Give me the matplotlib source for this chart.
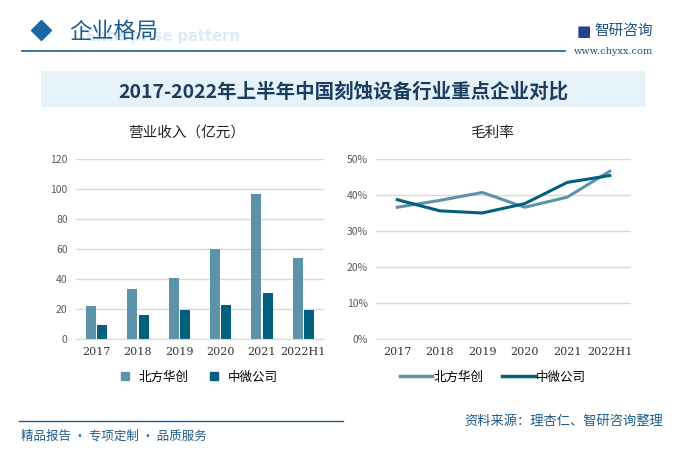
import numpy as np
import matplotlib.pyplot as plt
from matplotlib.patches import Rectangle
from matplotlib.lines import Line2D

plt.rcParams['font.family'] = ['Noto Sans CJK SC', 'DejaVu Sans']

years = ['2017', '2018', '2019', '2020', '2021', '2022H1']
revenue_naura = [22.2, 33.3, 40.7, 60.2, 96.7, 54.0]   # 北方华创, 亿元
revenue_amec = [9.4, 16.0, 19.4, 22.9, 30.8, 19.4]     # 中微公司
margin_naura = [36.6, 38.5, 40.7, 36.6, 39.4, 46.6]    # 毛利率 %
margin_amec = [38.7, 35.6, 35.0, 37.6, 43.5, 45.4]
names = ['北方华创', '中微公司']

c_light = '#5d93aa'
c_dark = '#02607f'
W, H = 686, 458

fig = plt.figure(figsize=(W / 100, H / 100), dpi=100)

def fx(px):
    return px / W

def fy(py):
    return 1 - py / H

# header
fig.text(fx(240), fy(36), 'Enterprise pattern', fontsize=10.5, fontweight='bold',
         color='#dde9f4', ha='right', va='center', family='DejaVu Sans')
fig.add_artist(Line2D([fx(41)], [fy(30)], marker='D', markersize=10.5, color='#1a69a7', ls=''))
fig.text(fx(69), fy(31), '企业格局', fontsize=16, color='#1f5c8a', va='center')
fig.add_artist(Line2D([fx(22), fx(565)], [fy(51), fy(51)], color='#1f5c8a', lw=1.2))
fig.text(fx(584), fy(31), '■', fontsize=11, color='#2a3f8f', ha='center', va='center',
         family='DejaVu Sans')
fig.text(fx(594), fy(31), '智研咨询', fontsize=10.5, color='#1f4f8a', va='center')
fig.text(fx(574), fy(51), 'www.chyxx.com', fontsize=7, color='#1f4f8a', va='center',
         family='DejaVu Serif')

# title band
fig.add_artist(Rectangle((fx(41), fy(107)), fx(604), 36 / H, color='#e6f2fa', lw=0))
fig.text(fx(343), fy(91), '2017-2022年上半年中国刻蚀设备行业重点企业对比', fontsize=14,
         fontweight='bold', color='#1d3d5e', ha='center', va='center')

x = np.arange(len(years))

# revenue bars
ax1 = fig.add_axes([fx(76), fy(339), fx(248), 180 / H])
bw = 0.24
ax1.bar(x - 0.14, revenue_naura, bw, color=c_light, label=names[0])
ax1.bar(x + 0.14, revenue_amec, bw, color=c_dark, label=names[1])
ax1.set_ylim(0, 120)
ax1.set_yticks(range(0, 121, 20))
ax1.set_xlim(-0.5, len(years) - 0.5)
fig.text(fx(187), fy(133), '营业收入（亿元）', fontsize=10.5, color='#222222',
         ha='center', va='center')

# gross margin lines
ax2 = fig.add_axes([fx(376), fy(339), fx(255), 180 / H])
ax2.plot(x, margin_naura, color=c_light, lw=2.2, label=names[0])
ax2.plot(x, margin_amec, color=c_dark, lw=2.2, label=names[1])
ax2.set_ylim(0, 50)
ax2.set_yticks(range(0, 51, 10))
ax2.set_yticklabels([f'{v}%' for v in range(0, 51, 10)])
ax2.set_xlim(-0.5, len(years) - 0.5)
fig.text(fx(492), fy(133), '毛利率', fontsize=10.5, color='#222222',
         ha='center', va='center')

for ax in (ax1, ax2):
    ax.set_xticks(x)
    ax.set_xticklabels(years, family='DejaVu Serif', fontsize=8, color='#333333')
    for lab in ax.get_yticklabels():
        lab.set_fontsize(7.5)
        lab.set_color('#595959')
    ax.grid(axis='y', color='#d9d9d9', lw=1)
    ax.set_axisbelow(True)
    for s in ax.spines.values():
        s.set_visible(False)
    ax.spines['bottom'].set_visible(True)
    ax.spines['bottom'].set_color('#d9d9d9')
    ax.tick_params(length=0, pad=6)

h1 = [Line2D([], [], marker='s', ls='', color=c, markersize=6) for c in (c_light, c_dark)]
fig.legend(h1, names, loc='center', bbox_to_anchor=(fx(195), fy(377)), ncol=2,
           frameon=False, fontsize=9, handletextpad=0.1, columnspacing=1.0)
h2 = [Line2D([], [], color=c, lw=2.5) for c in (c_light, c_dark)]
fig.legend(h2, names, loc='center', bbox_to_anchor=(fx(493), fy(377)), ncol=2,
           frameon=False, fontsize=9, handlelength=2.6, handletextpad=0.1,
           columnspacing=1.5)

# footer
fig.add_artist(Line2D([fx(19), fx(343)], [fy(421), fy(421)], color='#1f5c8a', lw=1))
fig.text(fx(21), fy(436), '精品报告 · 专项定制 · 品质服务', fontsize=9, color='#1f5c8a',
         va='center')
fig.text(fx(663), fy(421), '资料来源：理杏仁、智研咨询整理', fontsize=9.5, color='#1f5c8a',
         ha='right', va='center')

fig.savefig('out.png', dpi=100)
